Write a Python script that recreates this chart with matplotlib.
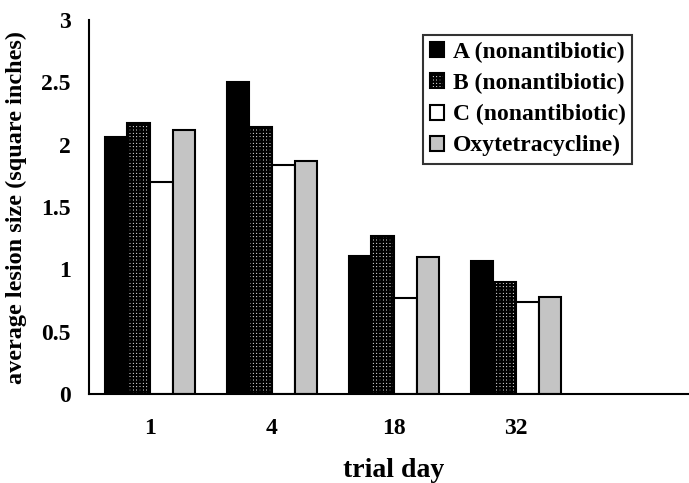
import numpy as np
import matplotlib
matplotlib.use("Agg")
import matplotlib.pyplot as plt

plt.rcParams["font.family"] = ["Liberation Serif", "DejaVu Serif"]
plt.rcParams["font.weight"] = "bold"
plt.rcParams["hatch.linewidth"] = 1.6

days = ["1", "4", "18", "32"]
series = ["A (nonantibiotic)", "B (nonantibiotic)", "C (nonantibiotic)", "Oxytetracycline)"]
val_a = [2.06, 2.50, 1.11, 1.07]
val_b = [2.17, 2.14, 1.27, 0.90]
val_c = [1.70, 1.84, 0.77, 0.74]
val_d = [2.12, 1.87, 1.10, 0.78]

fig = plt.figure(figsize=(6.89, 4.83), dpi=100)
ax = fig.add_axes([89 / 689, 1 - 394 / 483, 610 / 689, 374 / 483])

x = np.arange(len(days))
w = 0.185
styles = [
    dict(color="black", edgecolor="black"),
    dict(color="white", edgecolor="black", hatch="+++++"),
    dict(color="white", edgecolor="black"),
    dict(color="#c4c4c4", edgecolor="black"),
]
vals = [val_a, val_b, val_c, val_d]
for i in range(4):
    ax.bar(x + (i - 1.5) * w, vals[i], w, linewidth=1.5, label=series[i], **styles[i])

ax.set_xlim(-0.5, 4.5)
ax.set_ylim(0, 3)
ax.set_yticks([0, 0.5, 1, 1.5, 2, 2.5, 3])
ax.set_yticklabels(["0", "0.5", "1", "1.5", "2", "2.5", "3"])
ax.set_xticks(x)
ax.set_xticklabels(days)
ax.tick_params(axis="both", length=0, labelsize=17)
ax.tick_params(axis="y", pad=13)
ax.tick_params(axis="x", pad=17)
for s in ["top", "right"]:
    ax.spines[s].set_visible(False)
ax.spines["left"].set_linewidth(1.5)
ax.spines["bottom"].set_linewidth(1.5)

ax.set_ylabel("average lesion size (square inches)", fontsize=17.5, fontweight="bold", labelpad=10)
ax.set_xlabel("trial day", fontsize=20, fontweight="bold", labelpad=14)

leg = ax.legend(loc="upper left", bbox_to_anchor=(423 / 689, 1 - 35 / 483),
                bbox_transform=fig.transFigure, fontsize=17, frameon=True,
                fancybox=False, handlelength=0.6, handleheight=0.6,
                handletextpad=0.35, labelspacing=0.42, borderpad=0.3,
                borderaxespad=0)
leg.get_frame().set_edgecolor("black")
leg.get_frame().set_linewidth(1.5)

fig.savefig("out.png", dpi=100)
